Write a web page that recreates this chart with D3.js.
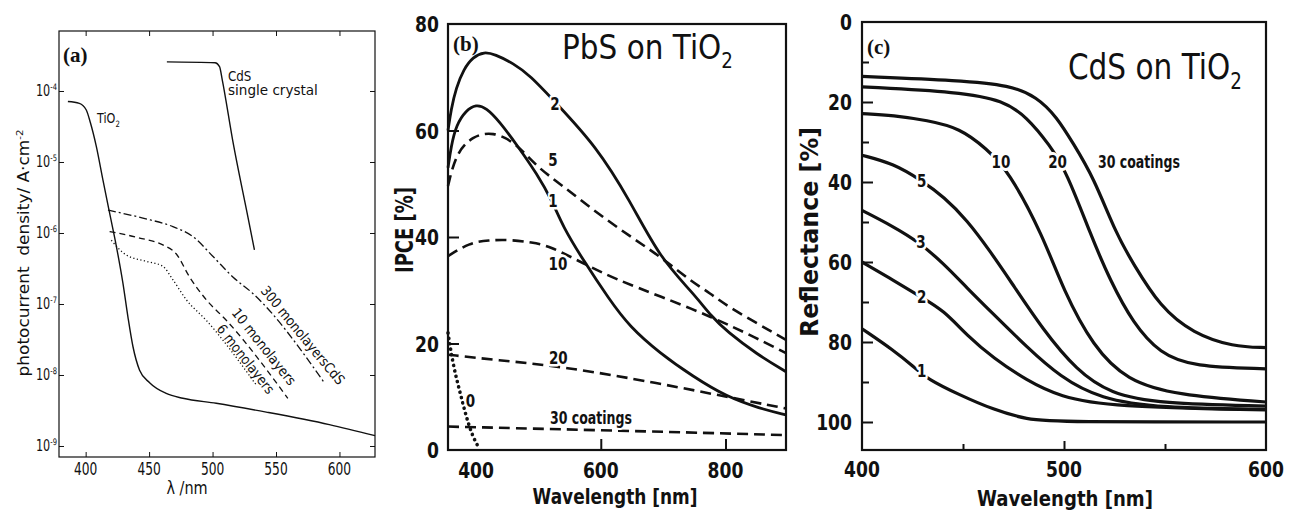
<!DOCTYPE html>
<html><head><meta charset="utf-8">
<script src="https://cdn.jsdelivr.net/npm/d3@7"></script>
<style>body{margin:0;background:#fff}svg{display:block}</style>
</head><body>
<svg id="chart" width="1289" height="521"></svg>
<script>
// ================= DATA =================
// Panel (a): photocurrent density (A/cm2) vs wavelength (nm), log scale
const aTicksX = [400, 450, 500, 550, 600];
const aTicksYExp = [-4, -5, -6, -7, -8, -9];
const aTiO2Nm = [386, 395, 400.5, 403.7, 408.4, 413.6, 418.9, 424.2, 429.4, 433.3, 437.3, 442.5, 450.4, 463.5, 476.6, 502.9, 542.3, 592, 628];
const aTiO2J  = [7.1e-5, 6.7e-5, 5.4e-5, 3.6e-5, 1.66e-5, 5.6e-6, 1.9e-6, 6.5e-7, 1.95e-7, 6.6e-8, 2.5e-8, 1.17e-8, 7.8e-9, 5.5e-9, 4.7e-9, 4.0e-9, 3.0e-9, 2.0e-9, 1.4e-9];
const aCdSNm  = [464, 502, 505.5, 507.6, 515.9, 527.8, 533];
const aCdSJ   = [2.57e-4, 2.5e-4, 2.2e-4, 1.45e-4, 2.0e-5, 1.7e-6, 5.8e-7];
const a300Nm  = [417.6, 445.1, 468.7, 484.5, 500.2, 516, 531.7, 588];
const a300J   = [2.1e-6, 1.62e-6, 1.23e-6, 8.9e-7, 4.7e-7, 2.4e-7, 1.41e-7, 7.8e-9];
const a10Nm   = [418.9, 442.5, 460.8, 471.3, 481.9, 495, 510.8, 559.3];
const a10J    = [1.05e-6, 8.5e-7, 6.8e-7, 5.1e-7, 2.4e-7, 1.15e-7, 5.9e-8, 4.7e-9];
const a6Nm    = [420.2, 432, 447.8, 460.8, 468.7, 479.3, 495, 535];
const a6J     = [7.9e-7, 4.9e-7, 4.0e-7, 3.4e-7, 2.2e-7, 1.15e-7, 5.9e-8, 7e-9];

// Panel (b): IPCE (%) vs wavelength (nm), PbS on TiO2
const bTicksX = [400, 600, 800];
const bTicksY = [0, 20, 40, 60, 80];
const b1Nm  = [355, 360, 368, 384, 400, 416, 437.5, 466, 498, 522, 539, 571, 614, 646, 694.5, 748, 801.6, 855, 897];
const b1    = [53, 57, 61, 63.8, 64.9, 64.3, 61.7, 57.2, 51.8, 46.8, 42, 35.8, 28.2, 23.2, 18.2, 13.8, 10.0, 7.8, 6.6];
const b2Nm  = [355, 360, 368, 380, 395, 413, 430, 460, 486, 528, 593, 646, 695, 748, 778, 802, 850, 897];
const b2    = [60, 64, 68, 71.5, 73.8, 74.8, 74.3, 72.6, 70.4, 65.2, 57, 47, 36, 29.5, 25, 22.3, 18, 14.7];
const b5Nm  = [355, 368, 395, 427, 464, 496, 539, 593, 646, 694.5, 748, 775, 802, 897];
const b5    = [49.6, 55.8, 59, 59.8, 57.7, 53.3, 49.6, 44.6, 40.2, 36.4, 31.4, 29.5, 27, 20.7];
const b10Nm = [355, 389, 420, 453.5, 490, 518, 571, 625, 694.5, 778, 850, 897];
const b10   = [36.4, 38.9, 39.4, 39.5, 39, 38.3, 35.1, 32, 28.9, 25, 21, 18.2];
const b20Nm = [355, 432, 539, 694.5, 801.6, 897];
const b20   = [17.9, 16.9, 15.7, 12.5, 10.0, 7.8];
const b30Nm = [355, 694.5, 897];
const b30   = [4.4, 3.45, 2.8];
const b0Nm  = [355, 363.5, 374, 384, 394.6, 405];
const b0    = [22, 15.7, 11, 6.3, 2.5, 0.3];

// Panel (c): Reflectance (%) vs wavelength (nm), CdS on TiO2
const cTicksX = [400, 500, 600];
const cTicksY = [0, 20, 40, 60, 80, 100];
const cMinorY = [10, 30, 50, 70, 90];
const cMinorX = [450, 550];
const c1Nm  = [400, 415.7, 425.6, 432.2, 448.6, 465, 481.5, 498, 600];
const c1    = [76.7, 82.1, 86.2, 89.2, 93.3, 96.9, 99.4, 100, 100];
const c2Nm  = [400, 415.7, 429, 440.5, 452, 465, 481.5, 498, 522.8, 600];
const c2    = [60, 64.6, 68.7, 72.1, 78.4, 84, 89.6, 93.7, 96.2, 97];
const c3Nm  = [400, 415.7, 428, 440.5, 452, 465, 481.5, 498, 517.8, 547.5, 600];
const c3    = [47.1, 51.2, 55, 60.4, 66.5, 73, 81.2, 88.7, 94.2, 96.5, 96.8];
const c5Nm  = [400, 415.7, 429.7, 440.5, 452, 463.7, 473.3, 489.8, 506.3, 522.8, 547.5, 600];
const c5    = [33.3, 35.4, 39.7, 43.7, 49.5, 57.5, 64.6, 77.1, 87.1, 92.9, 95.4, 96];
const c10Nm = [400, 415.7, 432.2, 448.5, 461.7, 472.4, 489.5, 499.7, 514.5, 531, 555.8, 600];
const c10   = [22.9, 23.3, 24.6, 26.5, 31.7, 37.1, 53.3, 67.1, 81.2, 89.6, 93.3, 95];
const c20Nm = [400, 448.5, 470, 481.5, 493, 501.3, 513.3, 522.8, 534.3, 547.5, 564, 600];
const c20   = [16.2, 17.5, 19.6, 23.7, 30.8, 37.5, 53.3, 64.6, 75.4, 82.9, 86.2, 86.7];
const c30Nm = [400, 448.5, 473.3, 486.5, 496.4, 504.6, 514.5, 526.1, 534.3, 547.5, 564, 583.8, 600];
const c30   = [13.6, 14.6, 15.8, 18.7, 23.7, 30.4, 38.7, 53.3, 60.4, 71.2, 77.9, 81.2, 81.4];

// ================= DRAWING =================
const INK = '#111';
const svg = d3.select('#chart');
svg.append('rect').attr('width', 1289).attr('height', 521).attr('fill', '#fff');
const zip = (xs, ys) => xs.map((x, i) => [x, ys[i]]);

function label(parent, o) {
  const size = o.size;
  const by = o.cy !== undefined ? o.cy + 0.365 * size : o.y;
  let tr = `translate(${o.x},${o.rotate ? o.y : by})`;
  if (o.rotate) tr += ` rotate(${o.rotate})`;
  const g = parent.append('g').attr('transform', tr);
  const t = g.append('text')
    .attr('font-family', o.family || 'DejaVu Sans')
    .attr('font-size', size)
    .attr('font-weight', o.weight || 'normal')
    .attr('text-anchor', o.anchor || 'start')
    .attr('fill', INK);
  const parts = Array.isArray(o.text) ? o.text : [{t: o.text}];
  parts.forEach(p => {
    const ts = t.append('tspan').text(p.t);
    if (p.sub) ts.attr('font-size', size * 0.62).attr('dy', size * 0.28);
    if (p.sup) ts.attr('font-size', size * 0.6).attr('dy', -size * 0.42);
  });
  if (o.halo) t.attr('stroke', '#fff').attr('stroke-width', o.halo)
    .attr('paint-order', 'stroke').attr('stroke-linejoin', 'round');
  let sx = o.sx || 1;
  if (o.width) sx = o.width / t.node().getComputedTextLength();
  t.attr('transform', `scale(${sx},1)`);
  return t;
}

function drawSeries(g, x, y, xs, ys, style) {
  const line = d3.line().x(d => x(d[0])).y(d => y(d[1])).curve(style.curve || d3.curveMonotoneX);
  g.append('path').datum(zip(xs, ys)).attr('d', line)
    .attr('fill', 'none').attr('stroke', INK)
    .attr('stroke-width', style.w)
    .attr('stroke-dasharray', style.dash || null)
    .attr('stroke-linecap', style.cap || 'butt')
    .attr('stroke-linejoin', 'round');
}

function inwardAxis(g, axisFn, scale, values, size, tr) {
  const ax = g.append('g').attr('transform', tr)
    .call(axisFn(scale).tickValues(values).tickSize(-size).tickFormat(''));
  ax.select('.domain').remove();
  return ax;
}

// ---------- Panel (a) ----------
{
  const P = {l: 59, r: 375, t: 31, b: 457};
  const g = svg.append('g');
  const x = d3.scaleLinear().domain([379, 628]).range([P.l, P.r]);
  const y = d3.scaleLog().domain([Math.pow(10, -9.155), Math.pow(10, -3.155)]).range([P.b, P.t]);
  const decades = aTicksYExp.map(e => Math.pow(10, e));
  [[d3.axisBottom, `translate(0,${P.b})`], [d3.axisTop, `translate(0,${P.t})`]].forEach(([f, tr]) => {
    inwardAxis(g, f, x, aTicksX, 5, tr).selectAll('line').attr('stroke', INK).attr('stroke-width', 1);
  });
  [[d3.axisLeft, `translate(${P.l},0)`], [d3.axisRight, `translate(${P.r},0)`]].forEach(([f, tr]) => {
    inwardAxis(g, f, y, decades, 5, tr).selectAll('line').attr('stroke', INK).attr('stroke-width', 1);
  });
  g.append('rect').attr('x', P.l).attr('y', P.t).attr('width', P.r - P.l).attr('height', P.b - P.t)
    .attr('fill', 'none').attr('stroke', INK).attr('stroke-width', 1.2);

  drawSeries(g, x, y, aTiO2Nm, aTiO2J, {w: 1.4});
  drawSeries(g, x, y, aCdSNm, aCdSJ, {w: 1.4});
  drawSeries(g, x, y, a300Nm, a300J, {w: 1.3, dash: '8,3,2,3'});
  drawSeries(g, x, y, a10Nm, a10J, {w: 1.3, dash: '6,4'});
  drawSeries(g, x, y, a6Nm, a6J, {w: 1.3, dash: '1.2,2.4'});

  aTicksX.forEach(v => label(g, {x: x(v), cy: 469, text: String(v), size: 17, sx: 0.72, anchor: 'middle'}));
  aTicksYExp.forEach(e => label(g, {x: 57, cy: y(Math.pow(10, e)), text: [{t: '10'}, {t: '-' + Math.abs(e), sup: true}], size: 15, sx: 0.75, anchor: 'end'}));
  label(g, {x: 187, cy: 488, text: 'λ /nm', size: 17, sx: 0.85, anchor: 'middle'});
  label(g, {x: 29, y: 253, rotate: -90, text: [{t: 'photocurrent\u00A0\u00A0density/ A·cm'}, {t: '-2', sup: true}], size: 15, width: 247, anchor: 'middle'});
  label(g, {x: 63, y: 62, text: '(a)', size: 21, weight: 'bold', family: 'Liberation Serif'});
  label(g, {x: 97, cy: 118, text: [{t: 'TiO'}, {t: '2', sub: true}], size: 14, sx: 0.8});
  label(g, {x: 228, cy: 76, text: 'CdS', size: 14, sx: 0.85});
  label(g, {x: 228, cy: 90, text: 'single crystal', size: 14, width: 90});
  label(g, {x: 260, y: 291, rotate: 50.5, text: '300 monolayersCdS', size: 14, width: 123});
  label(g, {x: 231, y: 313, rotate: 51.5, text: '10 monolayers', size: 14, width: 94});
  label(g, {x: 216, y: 329, rotate: 52, text: '6 monolayers', size: 14, width: 84});
}

// ---------- Panel (b) ----------
{
  const P = {l: 448, r: 786, t: 24, b: 450};
  const g = svg.append('g');
  const x = d3.scaleLinear().domain([355, 897]).range([P.l, P.r]);
  const y = d3.scaleLinear().domain([0, 80]).range([P.b, P.t]);
  inwardAxis(g, d3.axisLeft, y, [20, 40, 60], 11, `translate(${P.l},0)`).selectAll('line').attr('stroke', INK).attr('stroke-width', 2);
  inwardAxis(g, d3.axisBottom, x, [600, 800], 11, `translate(0,${P.b})`).selectAll('line').attr('stroke', INK).attr('stroke-width', 2);
  g.append('rect').attr('x', P.l).attr('y', P.t).attr('width', P.r - P.l).attr('height', P.b - P.t)
    .attr('fill', 'none').attr('stroke', INK).attr('stroke-width', 2.2);

  const dash = '11,6';
  const curve = d3.curveBasis;
  drawSeries(g, x, y, b2Nm, b2, {w: 2.8, curve});
  drawSeries(g, x, y, b1Nm, b1, {w: 2.8, curve});
  drawSeries(g, x, y, b5Nm, b5, {w: 2.6, dash, curve});
  drawSeries(g, x, y, b10Nm, b10, {w: 2.6, dash, curve});
  drawSeries(g, x, y, b20Nm, b20, {w: 2.6, dash, curve});
  drawSeries(g, x, y, b30Nm, b30, {w: 2.6, dash, curve});
  drawSeries(g, x, y, b0Nm, b0, {w: 3.6, dash: '0.1,5.4', cap: 'round', curve});

  bTicksY.forEach(v => label(g, {x: 439, cy: y(v), text: String(v), size: 22, sx: 0.78, weight: 'bold', anchor: 'end'}));
  bTicksX.forEach(v => label(g, {x: x(v), cy: 470, text: String(v), size: 22, sx: 0.78, weight: 'bold', anchor: 'middle'}));
  label(g, {x: 615, y: 504, text: 'Wavelength [nm]', size: 22, weight: 'bold', width: 165, anchor: 'middle'});
  label(g, {x: 413, y: 230, rotate: -90, text: 'IPCE [%]', size: 24, weight: 'bold', width: 86, anchor: 'middle'});
  label(g, {x: 453, y: 51, text: '(b)', size: 21, weight: 'bold', family: 'Liberation Serif'});
  label(g, {x: 562, y: 59, text: [{t: 'PbS on TiO'}, {t: '2', sub: true}], size: 33, width: 171});

  const bLab = [['2', 526.6, 65.1], ['5', 523.4, 54.5], ['1', 523.4, 46.9], ['10', 531.4, 35.1], ['20', 531.9, 17.4], ['0', 390.9, 9.4]];
  bLab.forEach(([t, nm, v]) => label(g, {x: x(nm), cy: y(v), text: t, size: 18, sx: 0.75, weight: 'bold', anchor: 'middle', halo: 5}));
  label(g, {x: x(584.3), cy: y(6.0), text: '30 coatings', size: 17, weight: 'bold', width: 82, anchor: 'middle', halo: 4});
}

// ---------- Panel (c) ----------
{
  const P = {l: 862, r: 1266, t: 22, b: 450};
  const g = svg.append('g');
  const x = d3.scaleLinear().domain([400, 600]).range([P.l, P.r]);
  const y = d3.scaleLinear().domain([0, 107]).range([P.t, P.b]);
  inwardAxis(g, d3.axisLeft, y, cTicksY.slice(1), 11, `translate(${P.l},0)`).selectAll('line').attr('stroke', INK).attr('stroke-width', 2);
  inwardAxis(g, d3.axisLeft, y, cMinorY, 7, `translate(${P.l},0)`).selectAll('line').attr('stroke', INK).attr('stroke-width', 2);
  inwardAxis(g, d3.axisBottom, x, [500], 9, `translate(0,${P.b})`).selectAll('line').attr('stroke', INK).attr('stroke-width', 2);
  inwardAxis(g, d3.axisBottom, x, cMinorX, 6, `translate(0,${P.b})`).selectAll('line').attr('stroke', INK).attr('stroke-width', 2);
  g.append('rect').attr('x', P.l).attr('y', P.t).attr('width', P.r - P.l).attr('height', P.b - P.t)
    .attr('fill', 'none').attr('stroke', INK).attr('stroke-width', 2.2);

  [[c1Nm, c1], [c2Nm, c2], [c3Nm, c3], [c5Nm, c5], [c10Nm, c10], [c20Nm, c20], [c30Nm, c30]]
    .forEach(([xs, ys]) => drawSeries(g, x, y, xs, ys, {w: 3.2, curve: d3.curveBasis}));

  cTicksY.forEach(v => label(g, {x: 852, cy: y(v), text: String(v), size: 22, sx: 0.78, weight: 'bold', anchor: 'end'}));
  cTicksX.forEach(v => label(g, {x: x(v), cy: 469, text: String(v), size: 22, sx: 0.78, weight: 'bold', anchor: 'middle'}));
  label(g, {x: 1065, y: 506, text: 'Wavelength [nm]', size: 22, weight: 'bold', width: 176, anchor: 'middle'});
  label(g, {x: 818, y: 232, rotate: -90, text: 'Reflectance [%]', size: 24, weight: 'bold', width: 210, anchor: 'middle'});
  label(g, {x: 867, y: 54, text: '(c)', size: 21, weight: 'bold', family: 'Liberation Serif'});
  label(g, {x: 1068, y: 79, text: [{t: 'CdS on TiO'}, {t: '2', sub: true}], size: 36, width: 174});

  const cLab = [['1', 429.5, 87], ['2', 429.5, 68.7], ['3', 429.2, 54.9], ['5', 429.5, 39.5], ['10', 468.8, 34.9], ['20', 496.8, 34.9]];
  cLab.forEach(([t, nm, v]) => label(g, {x: x(nm), cy: y(v), text: t, size: 18, sx: 0.75, weight: 'bold', anchor: 'middle', halo: 6}));
  label(g, {x: 1098, cy: y(34.9), text: '30 coatings', size: 17, weight: 'bold', width: 82, halo: 4});
}
</script>
</body></html>
